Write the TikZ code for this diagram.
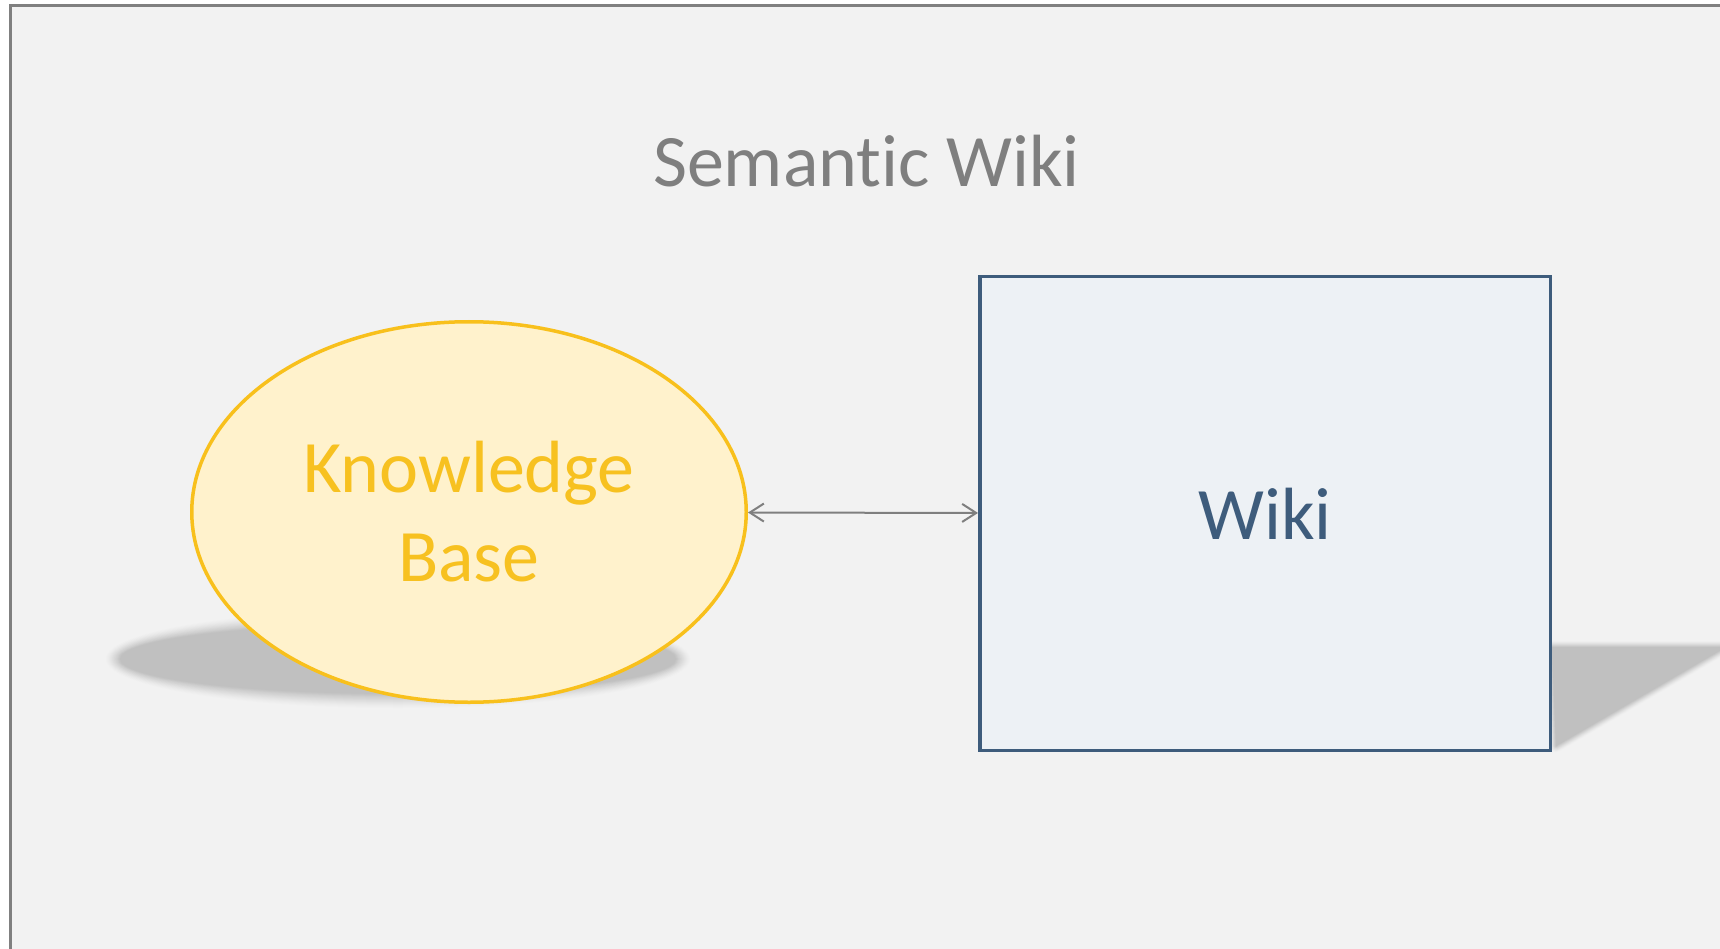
\documentclass[tikz,border=0pt]{standalone}
\usepackage{fontspec}
\setmainfont{Carlito}[Ligatures={NoCommon}]
\usetikzlibrary{arrows.meta,shapes.geometric}
\definecolor{bgc}{HTML}{F2F2F2}
\definecolor{framec}{HTML}{808080}
\definecolor{titlec}{HTML}{7F7F7F}
\definecolor{kbfill}{HTML}{FFF2CC}
\definecolor{kbline}{RGB}{248,192,28}
\definecolor{kbtext}{RGB}{247,193,32}
\definecolor{wkfill}{HTML}{EDF1F5}
\definecolor{wkline}{RGB}{62,92,124}
\definecolor{arrowc}{HTML}{7F7F7F}
\definecolor{shadowc}{HTML}{C0C0C0}
\tikzset{
  bigfont/.style={font=\fontsize{74}{89}\selectfont},
  barbtips/.style={{Straight Barb[length=14pt,width=18pt]}-{Straight Barb[length=14pt,width=18pt]}},
}
\begin{document}
\begin{tikzpicture}[x=1pt,y=-1pt]
\useasboundingbox (0,0) rectangle (1720,949);
\fill[white] (0,0) rectangle (1720,949);
\begin{scope}
\clip (0,0) rectangle (1720,949);
\draw[line width=3pt, draw=framec, fill=bgc] (10.5,6) rectangle (1780,1000);
% ellipse shadow (soft)
\foreach \k in {14,13,...,0}{
  \pgfmathsetmacro{\pc}{100*(1-\k/15)^1.3}
  \fill[shadowc!\pc!bgc] (398,659) ellipse [x radius=278pt+\k pt, y radius=35pt+\k pt];
}
% rectangle shadow (soft)
\foreach \k in {12,11,...,1}{
  \pgfmathsetmacro{\pc}{100*(1-\k/13)^1.3}
  \filldraw[fill=shadowc!\pc!bgc, draw=shadowc!\pc!bgc, line width=\k pt, line join=round]
    (1552,647) -- (1726,647) -- (1556,746) -- cycle;
}
\fill[shadowc] (1552,647) -- (1726,647) -- (1556,746) -- cycle;
\end{scope}
\node[bigfont, text=titlec, anchor=base] (title) at (866.5,187) {Semantic Wiki};
\node[ellipse, draw=kbline, line width=3.5pt, fill=kbfill, minimum width=554.5pt,
  minimum height=380.5pt, inner sep=0pt, text=kbtext, align=center, bigfont] (kb) at (469,512) {Knowledge\\Base};
\node[rectangle, draw=wkline, line width=3.5pt, fill=wkfill, minimum width=570.5pt,
  minimum height=473.5pt, inner sep=0pt, text=wkline, bigfont] (wiki) at (1265,513.5) {Wiki};
\draw[arrowc, line width=2pt, barbtips] (kb) -- (wiki);
\end{tikzpicture}
\end{document}
